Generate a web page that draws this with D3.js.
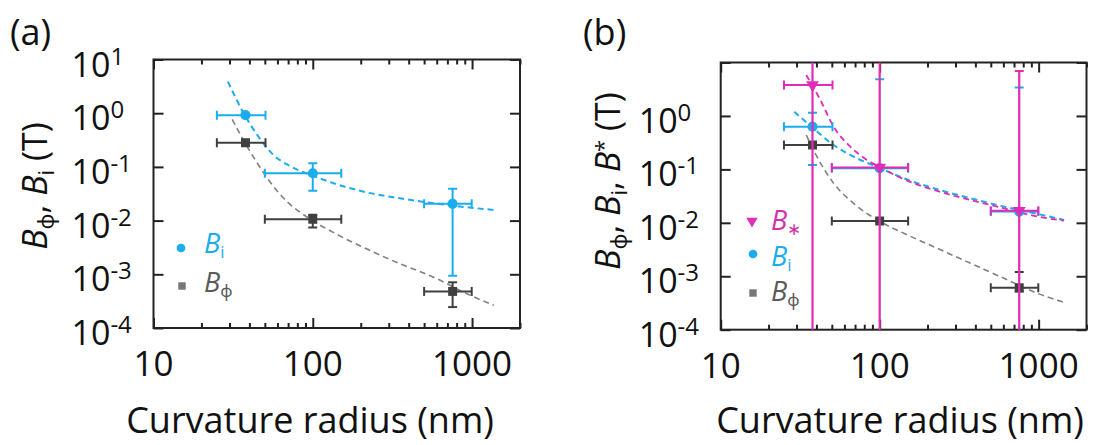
<!DOCTYPE html>
<html>
<head>
<meta charset="utf-8">
<script src="https://cdn.jsdelivr.net/npm/d3@7"></script>
<style>
    body { margin: 0; background: #fff; }
    svg { display: block; }
    text { font-family: "Open Sans", "Noto Sans", sans-serif; }
</style>
</head>
<body>
<svg id="chart" width="1097" height="445"></svg>
<script>
// curvature radius (nm) of the three samples, with the x error range
var radius = [37.8, 100, 755];
var radius_lo = [25, 50, 500];
var radius_hi = [50.5, 151, 995];

// panel (a), fields in tesla
var a_bi = [0.92, 0.076, 0.0205];
var a_bi_lo = [0.92, 0.036, 0.00094];
var a_bi_hi = [0.92, 0.117, 0.039];
var a_bphi = [0.282, 0.0106, 0.00048];
var a_bphi_lo = [0.282, 0.0074, 0.000245];
var a_bphi_hi = [0.282, 0.0128, 0.00071];
var a_fit_bi = [[29.3, 3.87], [37.4, 0.92], [46, 0.353], [55.9, 0.173], [71.3, 0.105], [100, 0.0686],
    [140, 0.048], [217, 0.0336], [353, 0.026], [573, 0.021], [929, 0.0177], [1371, 0.0158]];
var a_fit_bphi = [[31.2, 0.77], [37.9, 0.266], [43.9, 0.13], [53.2, 0.0554], [68, 0.0235], [100, 0.010],
    [140, 0.00565], [217, 0.00298], [353, 0.00157], [573, 0.000885], [929, 0.000434], [1371, 0.000264]];

// panel (b)
var b_bstar = [3.8, 0.109, 0.0169];
var b_bstar_lo = [1e-7, 1e-7, 1e-7];
var b_bstar_hi = [1e3, 1e3, 6.95];
var b_bi = [0.63, 0.105, 0.0162];
var b_bi_lo = [0.121, 1e-7, 1e-7];
var b_bi_hi = [1.15, 4.86, 3.39];
var b_bphi = [0.286, 0.0108, 0.000612];
var b_bphi_lo = [0.286, 0.0108, 0.00052];
var b_bphi_hi = [0.286, 0.0108, 0.0012];
var b_fit_bstar = [[34.5, 5.85], [42.3, 2.0], [51.3, 0.63], [65.3, 0.267], [83.2, 0.15], [101, 0.109],
    [142, 0.0653], [230, 0.0395], [373, 0.0268], [605, 0.0187], [982, 0.0131], [1445, 0.011]];
var b_fit_bi = [[29, 1.2], [37.8, 0.605], [51.3, 0.286], [68.5, 0.173], [101, 0.105], [142, 0.068],
    [230, 0.0424], [373, 0.0288], [605, 0.0201], [982, 0.0147], [1445, 0.0113]];
var b_fit_bphi = [[34.5, 0.44], [40.3, 0.173], [51.3, 0.055], [68.5, 0.0232], [101, 0.0105], [142, 0.00637],
    [230, 0.00334], [373, 0.00175], [605, 0.000916], [982, 0.00048], [1445, 0.000326]];

// axes
var x_domain = [10, 2000];
var y_domain = [1e-4, 10];
var x_major = [10, 100, 1000];
var x_minor = [20, 30, 40, 50, 60, 70, 80, 90, 200, 300, 400, 500, 600, 700, 800, 900, 2000];
var a_y_ticks = [10, 1, 1e-1, 1e-2, 1e-3, 1e-4];
var b_y_ticks = [1, 1e-1, 1e-2, 1e-3, 1e-4];
var x_title = "Curvature radius (nm)";

var blue = "#1bacee", magenta = "#e02cb6", dark = "#3f3f3f", grey = "#808080";

var svg = d3.select("#chart");

function sym(shape, size) {
    return d3.symbol().type(shape).size(size)();
}

function draw_panel(p) {
    var g = svg.append("g"),
        x = d3.scaleLog().domain(x_domain).range([p.left, p.right]),
        y = d3.scaleLog().domain(y_domain).range([p.bottom, p.top]);

    svg.append("clipPath").attr("id", "clip-" + p.id).append("rect")
        .attr("x", p.left).attr("y", p.top)
        .attr("width", p.right - p.left).attr("height", p.bottom - p.top);

    // ticks all point inwards, mirrored on the four sides
    var axes = [
        [d3.axisBottom(x).tickValues(x_minor).tickSize(-5), [0, p.bottom]],
        [d3.axisBottom(x).tickValues(x_major).tickSize(-10), [0, p.bottom]],
        [d3.axisTop(x).tickValues(x_minor).tickSize(-5), [0, p.top]],
        [d3.axisTop(x).tickValues(x_major).tickSize(-10), [0, p.top]],
        [d3.axisLeft(y).tickValues(a_y_ticks).tickSize(-10), [p.left, 0]],
        [d3.axisRight(y).tickValues(a_y_ticks).tickSize(-10), [p.right, 0]]
    ];
    axes.forEach(function(a) {
        var ax = g.append("g").attr("transform", "translate(" + a[1] + ")")
            .style("color", "#222")
            .call(a[0].tickFormat("").tickPadding(0));
        ax.select(".domain").remove();
        ax.selectAll("line").attr("stroke-width", 2);
    });

    g.append("rect").attr("x", p.left).attr("y", p.top)
        .attr("width", p.right - p.left).attr("height", p.bottom - p.top)
        .attr("fill", "none").attr("stroke", "#222").attr("stroke-width", 2);

    // tick labels
    g.selectAll(".xlab").data(x_major).join("text")
        .attr("x", d => x(d)).attr("y", p.bottom + 48)
        .attr("text-anchor", "middle").attr("font-size", 35).attr("fill", "#111")
        .text(d => d);

    var yl = g.selectAll(".ylab").data(p.y_ticks).join("text")
        .attr("x", p.left - 82).attr("y", d => y(d) + 17)
        .attr("font-size", 34).attr("fill", "#111");
    yl.append("tspan").text("10");
    yl.append("tspan").attr("dy", -12).attr("font-size", 24).text(d => Math.round(Math.log10(d)));

    // axis titles
    g.append("text").attr("x", p.xtitle_x).attr("y", 433)
        .attr("text-anchor", "middle").attr("font-size", 36).attr("fill", "#111")
        .text(x_title);

    var yt = g.append("text")
        .attr("transform", "translate(" + [p.ytitle_x, p.ytitle_y] + ") rotate(-90)")
        .attr("text-anchor", "middle").attr("font-size", 34).attr("fill", "#111");
    p.ytitle.forEach(function(part) {
        var t = yt.append("tspan").text(part.t);
        if(part.i) { t.attr("font-style", "italic"); }
        if(part.sub) { t.attr("font-size", 22).attr("dy", part.sub); }
        if(part.dy) { t.attr("dy", part.dy); }
    });

    g.append("text").attr("x", p.label_x).attr("y", 45)
        .attr("font-size", 36).attr("fill", "#111").text(p.label);

    // data
    var plot = g.append("g").attr("clip-path", "url(#clip-" + p.id + ")");
    var line = d3.line().x(d => x(d[0])).y(d => y(d[1])).curve(d3.curveMonotoneX);

    p.fits.forEach(function(f) {
        plot.append("path").datum(f.data).attr("d", line)
            .attr("fill", "none").attr("stroke", f.color)
            .attr("stroke-width", f.width).attr("stroke-dasharray", "6,4");
    });

    p.series.forEach(function(s) {
        var sg = plot.append("g").attr("stroke", s.bar).attr("stroke-width", 2);
        radius.forEach(function(r, i) {
            var cy = y(s.v[i]), cx = x(r);
            sg.append("line").attr("x1", x(radius_lo[i])).attr("x2", x(radius_hi[i])).attr("y1", cy).attr("y2", cy);
            sg.append("line").attr("x1", x(radius_lo[i])).attr("x2", x(radius_lo[i])).attr("y1", cy - 4.5).attr("y2", cy + 4.5);
            sg.append("line").attr("x1", x(radius_hi[i])).attr("x2", x(radius_hi[i])).attr("y1", cy - 4.5).attr("y2", cy + 4.5);
            if(s.lo[i] !== s.hi[i]) {
                sg.append("line").attr("x1", cx).attr("x2", cx).attr("y1", y(s.lo[i])).attr("y2", y(s.hi[i]))
                    .attr("stroke-width", s.vwidth);
                sg.append("line").attr("x1", cx - 4.5).attr("x2", cx + 4.5).attr("y1", y(s.lo[i])).attr("y2", y(s.lo[i]));
                sg.append("line").attr("x1", cx - 4.5).attr("x2", cx + 4.5).attr("y1", y(s.hi[i])).attr("y2", y(s.hi[i]));
            }
        });
        plot.append("g").selectAll("path").data(s.v).join("path")
            .attr("transform", (d, i) => "translate(" + [x(radius[i]), y(d)] + ")" + (s.shape === d3.symbolTriangle ? " rotate(180)" : ""))
            .attr("d", sym(s.shape, s.size)).attr("fill", s.fill);
    });

    // legend
    p.legend.forEach(function(l) {
        g.append("path")
            .attr("transform", "translate(" + [l.mx, l.my] + ")" + (l.shape === d3.symbolTriangle ? " rotate(180)" : ""))
            .attr("d", sym(l.shape, l.size)).attr("fill", l.mark);
        var t = g.append("text").attr("x", l.tx).attr("y", l.ty).attr("font-size", 27).attr("fill", l.color);
        t.append("tspan").attr("font-style", "italic").text("B");
        t.append("tspan").attr("font-size", 17).attr("dy", 5).text(l.sub);
    });
}

draw_panel({
    id: "a", label: "(a)", label_x: 10,
    left: 153.5, right: 520, top: 59.5, bottom: 328,
    y_ticks: a_y_ticks, xtitle_x: 310, ytitle_x: 47, ytitle_y: 186,
    ytitle: [{t: "B", i: true}, {t: "\u03d5", sub: 7}, {t: ", ", dy: -7}, {t: "B", i: true}, {t: "i", sub: 7}, {t: " (T)", dy: -7}],
    fits: [{data: a_fit_bphi, color: grey, width: 1.6}, {data: a_fit_bi, color: blue, width: 2}],
    series: [
        {v: a_bphi, lo: a_bphi_lo, hi: a_bphi_hi, bar: dark, fill: dark, shape: d3.symbolSquare, size: 80, vwidth: 2},
        {v: a_bi, lo: a_bi_lo, hi: a_bi_hi, bar: blue, fill: blue, shape: d3.symbolCircle, size: 80, vwidth: 2}
    ],
    legend: [
        {shape: d3.symbolCircle, size: 60, mark: blue, mx: 181, my: 248, tx: 204, ty: 253, color: blue, sub: "i"},
        {shape: d3.symbolSquare, size: 55, mark: "#777", mx: 182, my: 286, tx: 204, ty: 292, color: "#5a5a5a", sub: "\u03d5"}
    ]
});

draw_panel({
    id: "b", label: "(b)", label_x: 583,
    left: 720.7, right: 1086.5, top: 62.5, bottom: 329.7,
    y_ticks: b_y_ticks, xtitle_x: 900, ytitle_x: 620, ytitle_y: 181,
    ytitle: [{t: "B", i: true}, {t: "\u03d5", sub: 7}, {t: ", ", dy: -7}, {t: "B", i: true}, {t: "i", sub: 7},
        {t: ", ", dy: -7}, {t: "B", i: true}, {t: "*", sub: -9}, {t: " (T)", dy: 9}],
    fits: [{data: b_fit_bphi, color: grey, width: 1.6}, {data: b_fit_bi, color: blue, width: 2},
        {data: b_fit_bstar, color: magenta, width: 1.8}],
    series: [
        {v: b_bphi, lo: b_bphi_lo, hi: b_bphi_hi, bar: dark, fill: dark, shape: d3.symbolSquare, size: 80, vwidth: 1},
        {v: b_bi, lo: b_bi_lo, hi: b_bi_hi, bar: blue, fill: blue, shape: d3.symbolCircle, size: 80, vwidth: 1},
        {v: b_bstar, lo: b_bstar_lo, hi: b_bstar_hi, bar: magenta, fill: magenta, shape: d3.symbolTriangle, size: 70, vwidth: 2.2}
    ],
    legend: [
        {shape: d3.symbolTriangle, size: 55, mark: magenta, mx: 752, my: 221, tx: 771, ty: 230, color: "#d232a4", sub: "\u2217"},
        {shape: d3.symbolCircle, size: 60, mark: blue, mx: 753, my: 254, tx: 771, ty: 266, color: blue, sub: "i"},
        {shape: d3.symbolSquare, size: 55, mark: "#777", mx: 753, my: 293, tx: 771, ty: 301, color: "#5a5a5a", sub: "\u03d5"}
    ]
});
</script>
</body>
</html>
